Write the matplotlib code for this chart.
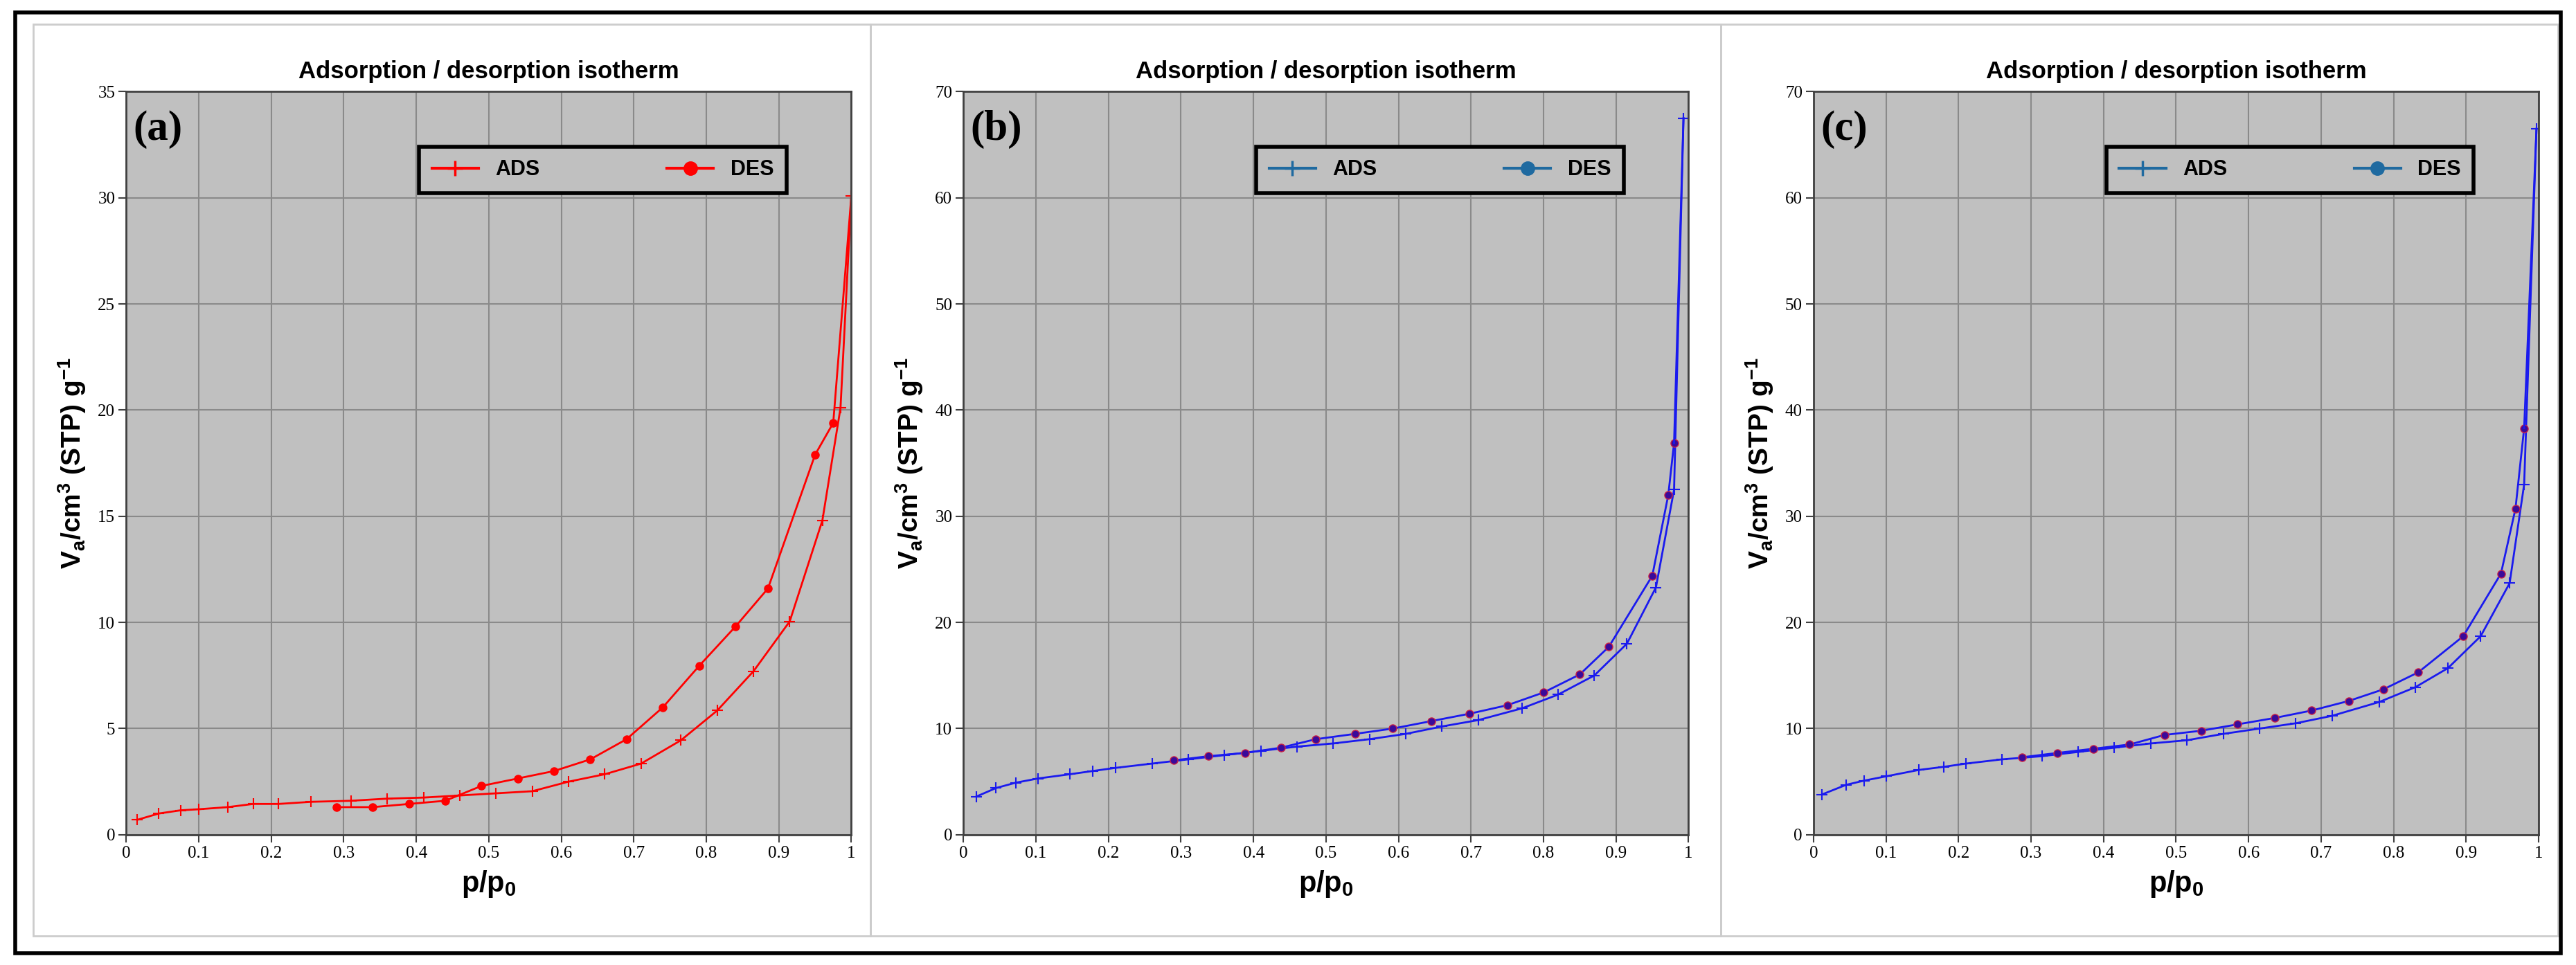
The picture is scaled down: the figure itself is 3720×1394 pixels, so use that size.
import matplotlib
matplotlib.use("Agg")
import matplotlib.pyplot as plt
from matplotlib.lines import Line2D
from matplotlib.patches import Rectangle

plt.rcParams['mathtext.fontset'] = 'custom'
plt.rcParams['mathtext.rm'] = 'Liberation Sans:bold'
plt.rcParams['mathtext.it'] = 'Liberation Sans:bold'
plt.rcParams['mathtext.bf'] = 'Liberation Sans:bold'

# panel (a)
a_ads_x = [0.015, 0.045, 0.075, 0.1, 0.14, 0.175, 0.21, 0.255, 0.31, 0.36, 0.41, 0.46,
           0.51, 0.56, 0.61, 0.66, 0.71, 0.765, 0.815, 0.865, 0.915, 0.96, 0.985, 1.0]
a_ads_y = [0.7, 1.0, 1.15, 1.2, 1.3, 1.45, 1.45, 1.55, 1.6, 1.7, 1.75, 1.85,
           1.95, 2.05, 2.5, 2.85, 3.35, 4.45, 5.85, 7.7, 10.05, 14.8, 20.1, 30.1]
a_des_x = [0.29, 0.34, 0.39, 0.44, 0.49, 0.54, 0.59, 0.64, 0.69, 0.74, 0.79, 0.84,
           0.885, 0.95, 0.975, 1.0]
a_des_y = [1.3, 1.3, 1.45, 1.6, 2.3, 2.65, 3.0, 3.55, 4.5, 6.0, 7.95, 9.8,
           11.6, 17.9, 19.4, 30.1]

# panel (b)
b_ads_x = [0.018, 0.045, 0.072, 0.103, 0.147, 0.178, 0.21, 0.26, 0.31, 0.36, 0.41, 0.46,
           0.51, 0.56, 0.61, 0.66, 0.71, 0.77, 0.82, 0.87, 0.915, 0.955, 0.98, 0.993]
b_ads_y = [3.6, 4.4, 4.9, 5.3, 5.7, 6.0, 6.3, 6.7, 7.1, 7.5, 7.9, 8.3,
           8.6, 9.0, 9.5, 10.2, 10.8, 11.9, 13.2, 15.0, 18.0, 23.3, 32.5, 67.5]
b_des_x = [0.29, 0.338, 0.388, 0.438, 0.486, 0.54, 0.592, 0.645, 0.698, 0.75, 0.8, 0.85,
           0.89, 0.95, 0.972, 0.98, 0.993]
b_des_y = [7.0, 7.4, 7.7, 8.2, 9.0, 9.5, 10.0, 10.7, 11.4, 12.2, 13.4, 15.1,
           17.7, 24.4, 32.0, 36.9, 67.5]

# panel (c)
c_ads_x = [0.012, 0.045, 0.07, 0.1, 0.145, 0.18, 0.21, 0.26, 0.315, 0.365, 0.415, 0.465,
           0.515, 0.565, 0.615, 0.665, 0.715, 0.78, 0.83, 0.875, 0.92, 0.96, 0.98, 0.997]
c_ads_y = [3.8, 4.7, 5.1, 5.5, 6.1, 6.4, 6.7, 7.1, 7.4, 7.8, 8.2, 8.6,
           8.9, 9.5, 10.0, 10.5, 11.2, 12.5, 13.9, 15.7, 18.7, 23.7, 33.0, 66.5]
c_des_x = [0.288, 0.336, 0.386, 0.436, 0.484, 0.535, 0.585, 0.636, 0.687, 0.738, 0.786, 0.834,
           0.896, 0.948, 0.968, 0.98, 0.997]
c_des_y = [7.3, 7.7, 8.1, 8.5, 9.4, 9.8, 10.4, 11.0, 11.7, 12.6, 13.7, 15.3,
           18.7, 24.6, 30.7, 38.3, 66.5]

xticks = [0, 0.1, 0.2, 0.3, 0.4, 0.5, 0.6, 0.7, 0.8, 0.9, 1]
xticklabels = ["0", "0.1", "0.2", "0.3", "0.4", "0.5", "0.6", "0.7", "0.8", "0.9", "1"]

panels = [
    ("(a)", a_ads_x, a_ads_y, a_des_x, a_des_y, 35, 5, "red", "red", "red", "red"),
    ("(b)", b_ads_x, b_ads_y, b_des_x, b_des_y, 70, 10, "#1a1aee", "#3a0a9a", "#cc2244", "#1f6aa0"),
    ("(c)", c_ads_x, c_ads_y, c_des_x, c_des_y, 70, 10, "#1a1aee", "#3a0a9a", "#cc2244", "#1f6aa0"),
]
lefts = [0.049, 0.374, 0.704]

fig = plt.figure(figsize=(37.2, 13.94), dpi=100)

# panel frames and outer border
for x0, w in [(0.013, 0.325), (0.338, 0.33), (0.668, 0.325)]:
    fig.patches.append(Rectangle((x0, 0.03), w, 0.945, transform=fig.transFigure,
                                 fill=False, edgecolor="#cccccc", linewidth=2))
fig.patches.append(Rectangle((0.006, 0.012), 0.988, 0.975, transform=fig.transFigure,
                             fill=False, edgecolor="black", linewidth=4))

for left, (lab, ax_x, ax_y, dx, dy, ymax, ystep, lc, mface, medge, legc) in zip(lefts, panels):
    ax = fig.add_axes([left, 0.135, 0.2815, 0.77])
    ax.set_facecolor("#c0c0c0")
    ax.plot(ax_x, ax_y, color=lc, lw=2, marker="+", ms=12, mew=1.5)
    ax.plot(dx[:-1], dy[:-1], color=lc, lw=2, marker="o", ms=8,
            markerfacecolor=mface, markeredgecolor=medge)
    ax.plot(dx[-2:], dy[-2:], color=lc, lw=2)
    ax.set_xlim(0, 1)
    ax.set_ylim(0, ymax)
    ax.set_xticks(xticks)
    ax.set_xticklabels(xticklabels)
    ax.set_yticks(range(0, ymax + 1, ystep))
    ax.grid(True, color="#8a8a8a", lw=1.5)
    ax.set_axisbelow(True)
    for s in ax.spines.values():
        s.set_color("#404040")
        s.set_linewidth(2)
    ax.tick_params(labelsize=18, length=8, width=1.5, color="#404040")
    for t in ax.get_xticklabels() + ax.get_yticklabels():
        t.set_fontfamily("Liberation Serif")
    ax.set_xlabel("p/p$_\\mathregular{0}$", fontsize=30, fontweight="bold",
                  fontfamily="Liberation Sans", labelpad=8)
    ax.set_ylabel("V$_\\mathregular{a}$/cm$^\\mathregular{3}$ (STP) g$^\\mathregular{-1}$",
                  fontsize=28, fontweight="bold", fontfamily="Liberation Sans", labelpad=10)
    ax.set_title("Adsorption / desorption isotherm", fontsize=25, fontweight="bold",
                 fontfamily="Liberation Sans", pad=14)
    ax.text(0.01, 0.975, lab, transform=ax.transAxes, fontsize=44, fontweight="bold",
            fontfamily="Liberation Serif", va="top", ha="left")
    handles = [Line2D([], [], color=legc, lw=3, marker="+", ms=16, mew=2.5),
               Line2D([], [], color=legc, lw=3, marker="o", ms=14)]
    leg = ax.legend(handles, ["ADS", "DES"], ncol=2, loc="upper right",
                    bbox_to_anchor=(0.925, 0.94), fancybox=False, facecolor="#c0c0c0",
                    framealpha=1, edgecolor="black", columnspacing=6, handlelength=2.2,
                    borderpad=0.6, prop={"family": "Liberation Sans", "weight": "bold", "size": 22})
    leg.get_frame().set_linewidth(4)

fig.savefig("out.png", dpi=100)
